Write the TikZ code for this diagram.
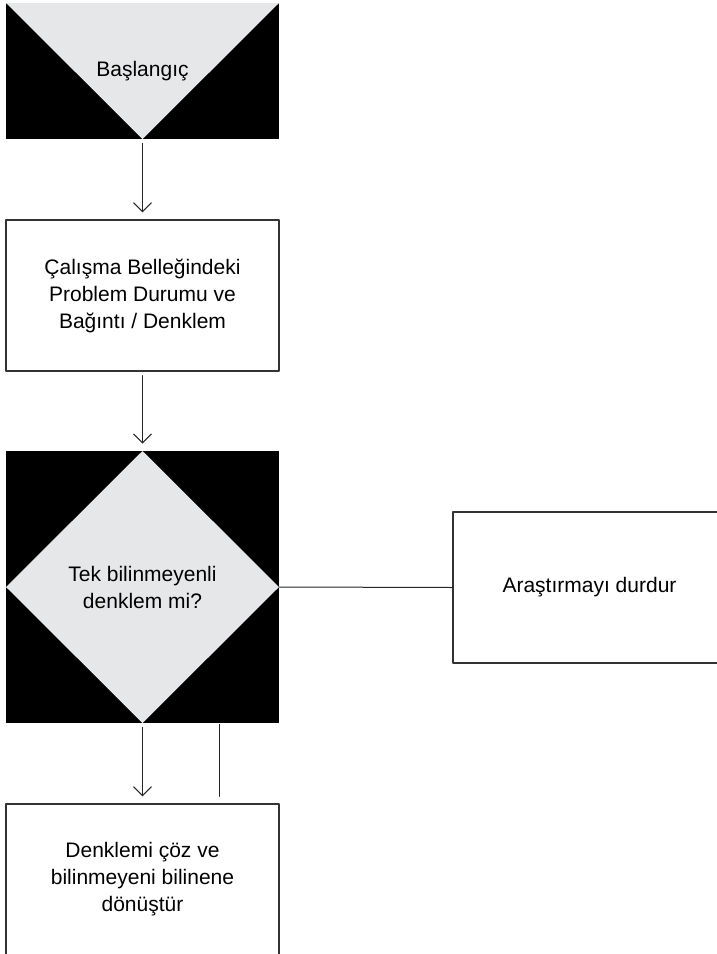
\documentclass[tikz,border=0pt]{standalone}
\usepackage{fontspec}
\setmainfont{Liberation Sans}
\usetikzlibrary{arrows.meta}
\definecolor{shapegray}{HTML}{E6E7E8}
\begin{document}
\begin{tikzpicture}[x=0.5pt,y=-0.5pt,>={Straight Barb[length=4.5pt,width=9pt]}, font=\fontsize{10.5}{13.5}\selectfont, line join=round, line cap=round,
	box/.style={draw=black!80, line width=0.6pt, minimum width=136.5pt, minimum height=75.5pt, align=center, inner sep=0pt},
	startbox/.style={fill=black, minimum width=136.5pt, minimum height=68pt, inner sep=0pt, path picture={\fill[shapegray] (path picture bounding box.north west) -- (path picture bounding box.north east) -- (path picture bounding box.south) -- cycle;}},
	decision/.style={fill=black, minimum width=136.5pt, minimum height=136pt, align=center, inner sep=0pt, path picture={\fill[shapegray] (path picture bounding box.north) -- (path picture bounding box.east) -- (path picture bounding box.south) -- (path picture bounding box.west) -- cycle;}},
	link/.style={line width=0.5pt, draw=black!85, shorten <=2pt, shorten >=3.5pt}]
	\useasboundingbox (0,0) rectangle (717,954);
	\clip (0,0) rectangle (717,954);
	% Kutular
	\node[startbox] (start) at (142.5,71) {Başlangıç};
	\node[box] (memory) at (142.5,295.5) {Çalışma Belleğindeki\\Problem Durumu ve\\Bağıntı / Denklem};
	\node[decision] (onevar) at (142.5,587) {Tek bilinmeyenli\\denklem mi?};
	\node[box] (stop) at (589.5,587.5) {Araştırmayı durdur};
	\node[box] (solve) at (142.5,879.5) {Denklemi çöz ve\\bilinmeyeni bilinene\\dönüştür};
	% Bağlantılar
	\draw[->,link] (start.south) -- (memory.north);
	\draw[->,link] (memory.south) -- (onevar.north);
	\draw[line width=0.5pt, draw=black!85] (onevar.east) -- (stop.west);
	\draw[->,link] (onevar.south) -- (solve.north);
	\draw[link, shorten <=0.5pt] ([xshift=38.25pt]onevar.south) -- ([xshift=38.25pt]solve.north);
\end{tikzpicture}
\end{document}
